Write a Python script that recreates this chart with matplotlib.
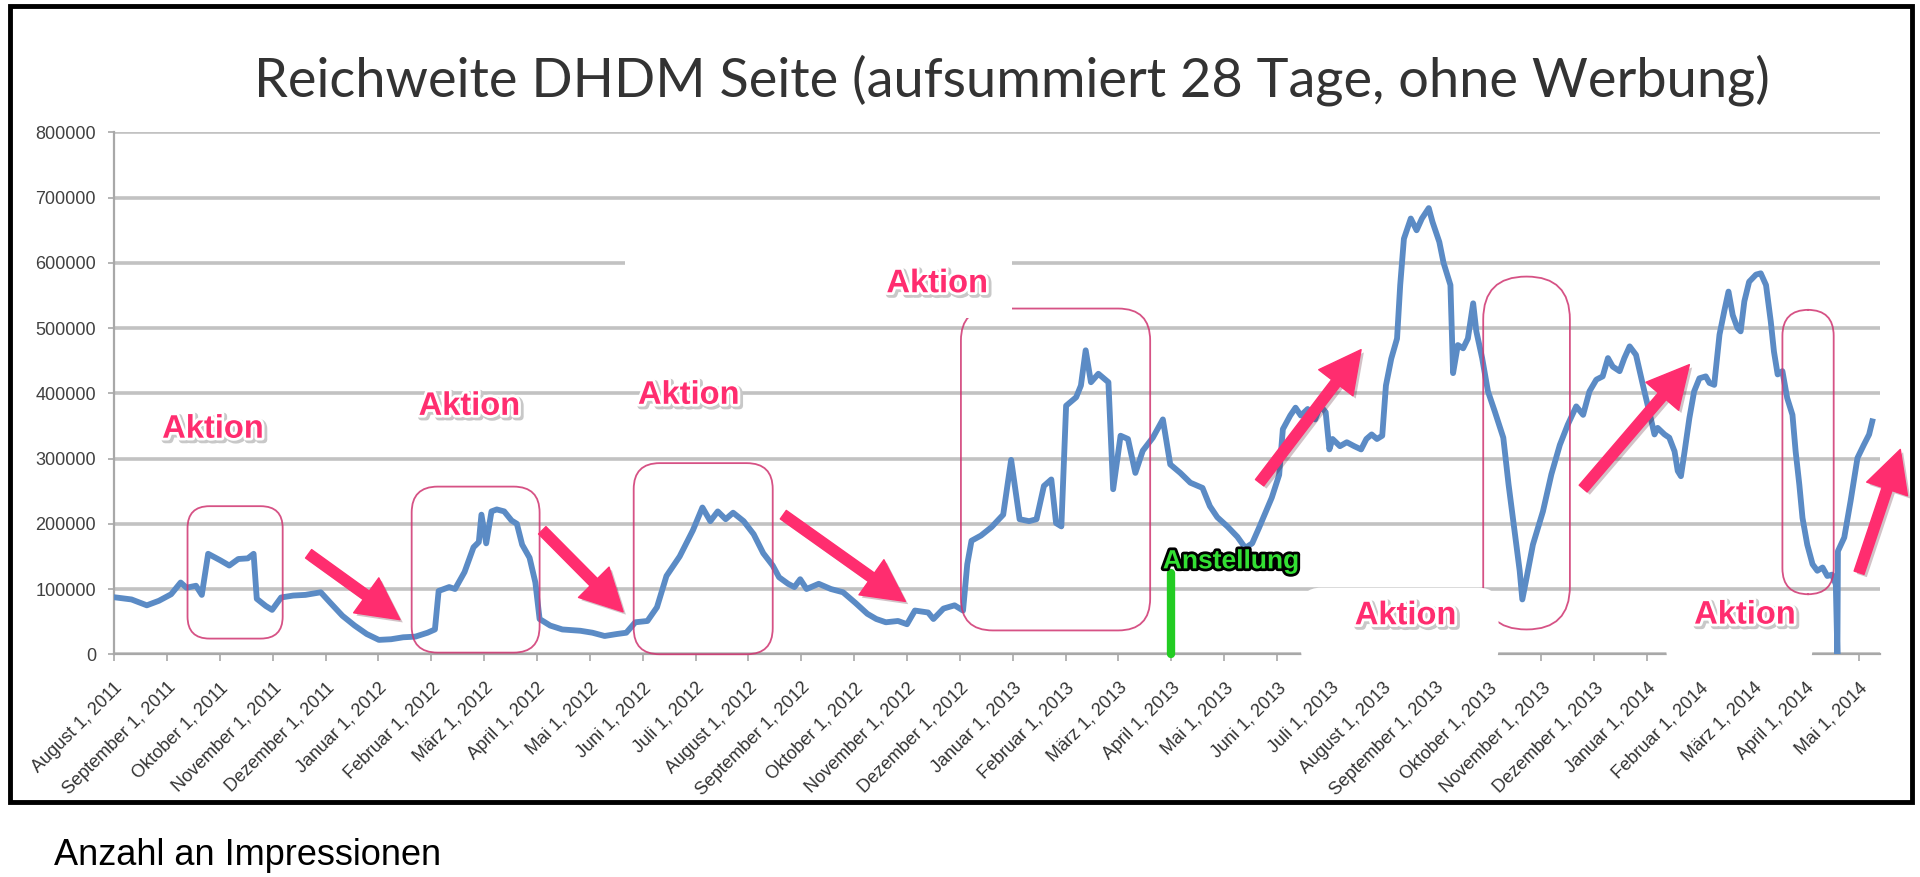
import matplotlib
matplotlib.use('Agg')
import matplotlib.pyplot as plt
import matplotlib.patheffects as pe
from matplotlib.patches import FancyBboxPatch, Rectangle
from matplotlib.transforms import IdentityTransform

# x axis: one tick per month (category style axis)
month_labels = [
    'August 1, 2011', 'September 1, 2011', 'Oktober 1, 2011', 'November 1, 2011', 'Dezember 1, 2011',
    'Januar 1, 2012', 'Februar 1, 2012', 'März 1, 2012', 'April 1, 2012', 'Mai 1, 2012', 'Juni 1, 2012',
    'Juli 1, 2012', 'August 1, 2012', 'September 1, 2012', 'Oktober 1, 2012', 'November 1, 2012',
    'Dezember 1, 2012', 'Januar 1, 2013', 'Februar 1, 2013', 'März 1, 2013', 'April 1, 2013', 'Mai 1, 2013',
    'Juni 1, 2013', 'Juli 1, 2013', 'August 1, 2013', 'September 1, 2013', 'Oktober 1, 2013',
    'November 1, 2013', 'Dezember 1, 2013', 'Januar 1, 2014', 'Februar 1, 2014', 'März 1, 2014',
    'April 1, 2014', 'Mai 1, 2014',
]
y_ticks = [0, 100000, 200000, 300000, 400000, 500000, 600000, 700000, 800000]

# reach series, position in months since August 1, 2011
reach_pos = [
    0.04, 0.33, 0.62, 0.85, 1.08, 1.26, 1.37, 1.55, 1.66, 1.78, 2.01, 2.18, 2.35, 2.53, 2.64, 2.70,
    2.87, 2.99, 3.16, 3.39, 3.62, 3.91, 4.09, 4.32, 4.55, 4.78, 5.01, 5.24, 5.47, 5.70, 5.93, 6.07,
    6.14, 6.34, 6.45, 6.63, 6.80, 6.90, 6.95, 7.04, 7.14, 7.24, 7.38, 7.52, 7.62, 7.72, 7.86, 7.97,
    8.05, 8.25, 8.48, 8.82, 9.05, 9.28, 9.51, 9.69, 9.86, 10.09, 10.27, 10.45, 10.70, 10.95, 11.13,
    11.28, 11.42, 11.57, 11.71, 11.91, 12.10, 12.28, 12.46, 12.58, 12.75, 12.87, 12.98, 13.10, 13.33,
    13.56, 13.79, 14.02, 14.25, 14.42, 14.60, 14.83, 15.00, 15.15, 15.40, 15.50, 15.69, 15.90, 16.06,
    16.14, 16.22, 16.40, 16.60, 16.82, 16.97, 17.13, 17.31, 17.45, 17.59, 17.73, 17.82, 17.92, 18.01,
    18.20, 18.29, 18.38, 18.48, 18.62, 18.81, 18.90, 19.04, 19.18, 19.32, 19.46, 19.65, 19.84, 19.98,
    20.17, 20.36, 20.59, 20.73, 20.87, 21.06, 21.25, 21.40, 21.53, 21.66, 21.90, 22.04, 22.11, 22.25,
    22.35, 22.45, 22.58, 22.72, 22.82, 22.92, 22.99, 23.05, 23.19, 23.32, 23.46, 23.59, 23.69, 23.79,
    23.89, 23.99, 24.06, 24.16, 24.27, 24.33, 24.40, 24.53, 24.64, 24.74, 24.87, 24.94, 25.07, 25.15,
    25.28, 25.33, 25.42, 25.52, 25.61, 25.71, 25.77, 25.88, 25.99, 26.12, 26.28, 26.38, 26.50, 26.59,
    26.64, 26.72, 26.84, 27.03, 27.19, 27.35, 27.50, 27.66, 27.79, 27.91, 28.04, 28.16, 28.26, 28.35,
    28.48, 28.57, 28.67, 28.79, 28.92, 29.04, 29.14, 29.20, 29.33, 29.42, 29.52, 29.58, 29.64, 29.71,
    29.80, 29.89, 29.99, 30.11, 30.18, 30.27, 30.37, 30.46, 30.54, 30.62, 30.71, 30.77, 30.84, 30.93,
    31.06, 31.15, 31.25, 31.34, 31.40, 31.47, 31.56, 31.65, 31.75, 31.81, 31.88, 31.94, 32.03, 32.13,
    32.22, 32.32, 32.41, 32.50, 32.57, 32.60, 32.61, 32.73, 32.85, 32.98, 33.10, 33.20, 33.26,
]
reach_values = [
    87000, 84000, 75000, 82000, 92000, 110000, 102000, 105000, 91000, 154000, 144000, 136000, 146000,
    147000, 154000, 85000, 74000, 68000, 87000, 90000, 91000, 95000, 79000, 59000, 44000, 31000, 22000,
    23000, 26000, 27000, 33000, 38000, 97000, 103000, 100000, 126000, 164000, 172000, 214000, 170000,
    219000, 222000, 219000, 205000, 200000, 168000, 148000, 110000, 54000, 44000, 38000, 36000, 33000,
    28000, 31000, 33000, 49000, 51000, 72000, 120000, 150000, 190000, 225000, 204000, 219000, 207000,
    217000, 204000, 184000, 155000, 136000, 118000, 108000, 103000, 115000, 100000, 108000, 100000,
    95000, 79000, 62000, 54000, 49000, 51000, 46000, 67000, 64000, 54000, 70000, 75000, 67000, 138000,
    174000, 182000, 195000, 214000, 298000, 207000, 204000, 207000, 258000, 268000, 201000, 196000,
    381000, 394000, 412000, 466000, 417000, 430000, 417000, 253000, 335000, 330000, 278000, 312000,
    332000, 360000, 291000, 278000, 263000, 255000, 227000, 210000, 196000, 180000, 163000, 170000,
    194000, 240000, 275000, 345000, 366000, 378000, 366000, 376000, 360000, 381000, 371000, 314000,
    330000, 319000, 325000, 319000, 314000, 330000, 337000, 330000, 335000, 412000, 453000, 484000,
    566000, 637000, 668000, 650000, 668000, 684000, 663000, 632000, 600000, 566000, 431000, 474000,
    469000, 484000, 538000, 495000, 454000, 403000, 372000, 332000, 260000, 184000, 128000, 84000,
    117000, 168000, 219000, 276000, 321000, 352000, 380000, 367000, 403000, 421000, 426000, 454000,
    441000, 434000, 454000, 472000, 459000, 413000, 372000, 337000, 347000, 337000, 332000, 311000,
    281000, 273000, 311000, 362000, 403000, 423000, 426000, 416000, 413000, 490000, 526000, 556000,
    520000, 500000, 495000, 541000, 571000, 582000, 584000, 566000, 510000, 464000, 429000, 434000,
    393000, 367000, 311000, 260000, 209000, 168000, 138000, 128000, 133000, 120000, 122000, 107000, 0,
    158000, 179000, 235000, 301000, 321000, 337000, 357000,
]

# annotations (month position, value)
aktion_pos = [(1.87, 345000), (6.72, 380000), (10.87, 397000), (15.57, 568000), (24.43, 59000), (30.85, 60000)]
# highlight boxes: month from, month to, value bottom, value top, corner radius (px)
action_boxes = [
    (1.39, 3.19, 24000, 227000, 22),
    (5.63, 8.05, 2500, 257000, 26),
    (9.83, 12.46, 0, 293000, 26),
    (16.02, 19.60, 36500, 530000, 32),
    (25.90, 27.54, 38000, 579000, 43),
    (31.56, 32.53, 92000, 528000, 26),
]
# white cover patches behind some labels
cover_boxes = [
    (9.66, 16.98, 515000, 625000, 0),
    (22.45, 26.19, -22000, 102000, 20),
    (29.36, 32.13, -22000, 90000, 20),
]
# arrows: (tail, head)
arrows = [
    ((3.68, 154000), (5.41, 53000)),
    ((8.10, 190000), (9.63, 65000)),
    ((12.66, 214000), (14.97, 81000)),
    ((21.67, 263000), (23.59, 467000)),
    ((27.79, 254000), (29.80, 444000)),
    ((33.01, 125000), (33.79, 314000)),
]
anstellung_pos = 20  # April 1, 2013
anstellung_height = 124000

PINK = '#ff2d6f'
BOX_PINK = '#cf3470'
BLUE = '#5b8bc5'

fig = plt.figure(figsize=(19.2, 8.77), dpi=100)
ax = fig.add_axes([0.0594, 0.254, 0.9196, 0.595])

ax.set_xlim(0, 33.4)
ax.set_ylim(0, 800000)
ax.set_yticks(y_ticks)
ax.set_yticklabels([str(v) for v in y_ticks], fontsize=13, color='#404040', family='Liberation Sans')
ax.set_xticks(range(len(month_labels)))
ax.set_xticklabels(month_labels, rotation=45, ha='right', va='top', rotation_mode='anchor',
                   fontsize=13, color='#333333', family='Liberation Sans')
ax.tick_params(axis='y', length=4, width=1.2, color='#a8a8a8', pad=9)
ax.tick_params(axis='x', length=5, width=1.2, color='#a8a8a8', pad=13)
ax.grid(axis='y', color='#c2c2c2', lw=2.6)
ax.set_axisbelow(True)
for s in ['top', 'right']:
    ax.spines[s].set_visible(False)
for s in ['left', 'bottom']:
    ax.spines[s].set_color('#a8a8a8')
    ax.spines[s].set_linewidth(1.6)

# reach line
ax.plot(reach_pos, reach_values, color=BLUE, lw=4.2, solid_joinstyle='round', zorder=3)


def rounded_box(t0, t1, v0, v1, radius, **kw):
    (x0, y0), (x1, y1) = ax.transData.transform([(t0, v0), (t1, v1)])
    patch = FancyBboxPatch((x0, y0), x1 - x0, y1 - y0,
                           boxstyle=f'round,pad=0,rounding_size={radius}',
                           transform=IdentityTransform(), clip_on=False, **kw)
    ax.add_patch(patch)


for t0, t1, v0, v1, r in action_boxes:
    rounded_box(t0, t1, v0, v1, r, fill=False, ec=BOX_PINK, lw=1.3, alpha=0.85, zorder=4)

for t0, t1, v0, v1, r in cover_boxes:
    if r > 0:
        rounded_box(t0, t1, v0, v1, r, fc='white', ec='none', zorder=5)
    else:
        ax.add_patch(Rectangle((t0, v0), t1 - t0, v1 - v0, fc='white', ec='none', zorder=5))

# arrows
for tail, head in arrows:
    ax.annotate('', xy=head, xytext=tail, annotation_clip=False, zorder=6,
                arrowprops=dict(arrowstyle='simple,head_length=3.0,head_width=3.1,tail_width=0.75',
                                mutation_scale=10, color=PINK, shrinkA=0, shrinkB=0,
                                path_effects=[pe.withSimplePatchShadow(offset=(2, -2), alpha=0.25)]))

# Aktion labels
for t, v in aktion_pos:
    ax.text(t, v, 'Aktion', color=PINK, fontsize=23.5, fontweight='bold', family='Liberation Sans',
            ha='center', va='center', zorder=7,
            path_effects=[pe.Stroke(linewidth=5, foreground='#c8c8c8', offset=(1.5, -1.5)),
                          pe.Stroke(linewidth=4, foreground='white'), pe.Normal()])

# Anstellung marker
ax.plot([anstellung_pos, anstellung_pos], [0, anstellung_height], color='#22cc22', lw=6,
        solid_capstyle='round', clip_on=False, zorder=6)
ax.text(anstellung_pos - 0.16, anstellung_height, 'Anstellung', color='#33e033', fontsize=19,
        fontweight='bold', family='Liberation Sans', ha='left', va='bottom', zorder=7,
        path_effects=[pe.withStroke(linewidth=4, foreground='black')])

fig.text(0.527, 0.909, 'Reichweite DHDM Seite (aufsummiert 28 Tage, ohne Werbung)',
         ha='center', va='center', fontsize=39, color='#333333', family=['Lato', 'DejaVu Sans'])

fig.text(0.028, 0.025, 'Anzahl an Impressionen', ha='left', va='center', fontsize=26,
         family=['Liberation Sans Narrow', 'Liberation Sans'])

# outer frame
fig.add_artist(Rectangle((0.005, 0.0855), 0.991, 0.9075, transform=fig.transFigure,
                         fill=False, lw=3.5, ec='black'))

fig.savefig('out.png', dpi=100)
